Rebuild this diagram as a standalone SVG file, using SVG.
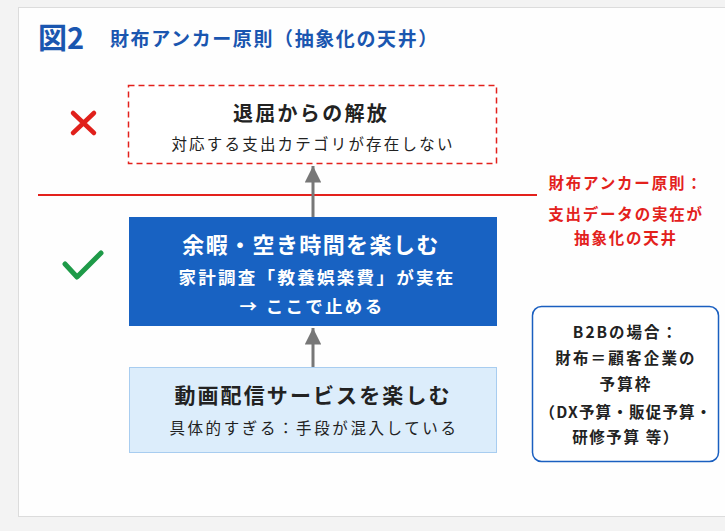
<svg xmlns="http://www.w3.org/2000/svg" width="725" height="531" viewBox="0 0 725 531">
<defs>
<style>
.jp{font-family:"Noto Sans CJK JP","Noto Sans",sans-serif;}
.c{text-anchor:middle;}
.dark{fill:#222;}
.red{fill:#e3211c;}
</style>
<marker id="ah" viewBox="0 0 10 10" refX="10" refY="5" markerWidth="5.5" markerHeight="5.5" markerUnits="strokeWidth" orient="auto">
<path d="M0,0 L10,5 L0,10 z" fill="#777"/>
</marker>
</defs>
<rect x="0" y="0" width="725" height="531" fill="#f3f3f3"/>
<rect x="18.5" y="7.5" width="712" height="509" fill="#fefefe" stroke="#dcdcdc"/>
<g id="title">
<text x="38" y="49" class="jp" font-size="29" font-weight="700" fill="#1a56b0">図2</text>
<text x="110" y="46" class="jp" font-size="19" font-weight="700" fill="#1a56b0" letter-spacing="1.6">財布アンカー原則（抽象化の天井）</text>
</g>
<g id="ceiling">
<line x1="38" y1="195" x2="537" y2="195" stroke="#e3211c" stroke-width="2"/>
<text x="626" y="189" class="jp c red" font-size="15.5" font-weight="700" letter-spacing="1.8">財布アンカー原則：</text>
<text x="626" y="220" class="jp c red" font-size="15.5" font-weight="700" letter-spacing="1.8">支出データの実在が</text>
<text x="626" y="244" class="jp c red" font-size="15.5" font-weight="700" letter-spacing="1.8">抽象化の天井</text>
</g>
<g id="connectors">
<line x1="313" y1="217" x2="313" y2="166" stroke="#777" stroke-width="3" marker-end="url(#ah)"/>
<line x1="313" y1="367" x2="313" y2="328" stroke="#777" stroke-width="3" marker-end="url(#ah)"/>
</g>
<g id="cross">
<path d="M73,113 L94,133 M94,113 L73,133" stroke="#e0201b" stroke-width="4.5" stroke-linecap="round" fill="none"/>
</g>
<g id="check">
<path d="M65,264 L77,277 L101,253" stroke="#1e9a48" stroke-width="5" stroke-linecap="round" stroke-linejoin="round" fill="none"/>
</g>
<g id="node-liberation">
<rect x="128.5" y="85.5" width="368" height="78" fill="#fff" stroke="#e3211c" stroke-width="1.5" stroke-dasharray="6,4"/>
<text x="311" y="121" class="jp c dark" font-size="20" font-weight="700" letter-spacing="2.3">退屈からの解放</text>
<text x="313" y="150" class="jp c dark" font-size="15.5" letter-spacing="2.2">対応する支出カテゴリが存在しない</text>
</g>
<g id="node-leisure">
<rect x="129" y="217" width="368" height="109" fill="#1862c2"/>
<text x="311" y="253" class="jp c" font-size="22" font-weight="700" fill="#fff" letter-spacing="1.4">余暇・空き時間を楽しむ</text>
<text x="317" y="284" class="jp c" font-size="17.5" font-weight="700" fill="#fff" letter-spacing="2.3">家計調査「教養娯楽費」が実在</text>
<text x="312" y="313" class="jp c" font-size="17.5" font-weight="700" fill="#fff" letter-spacing="2.3">→ ここで止める</text>
</g>
<g id="node-video">
<rect x="129.5" y="367.5" width="367" height="85" fill="#dcedfb" stroke="#a8cdf0"/>
<text x="313" y="403" class="jp c dark" font-size="21" font-weight="700" letter-spacing="2.1">動画配信サービスを楽しむ</text>
<text x="314" y="434" class="jp c dark" font-size="15.5" letter-spacing="2.6">具体的すぎる：手段が混入している</text>
</g>
<g id="node-b2b">
<rect x="532.5" y="306.5" width="186" height="155" rx="9" fill="#fff" stroke="#1a5fc0" stroke-width="1.5"/>
<text x="626" y="338" class="jp c dark" font-size="15.5" font-weight="700" letter-spacing="2">B2Bの場合：</text>
<text x="626" y="364" class="jp c dark" font-size="15.5" font-weight="700" letter-spacing="2.2">財布＝顧客企業の</text>
<text x="626" y="390" class="jp c dark" font-size="15.5" font-weight="700" letter-spacing="2.2">予算枠</text>
<text x="626" y="418" class="jp c dark" font-size="15.5" font-weight="700" letter-spacing="1.2">（DX予算・販促予算・</text>
<text x="626" y="443" class="jp c dark" font-size="15.5" font-weight="700" letter-spacing="1.6">研修予算 等）</text>
</g>
</svg>
